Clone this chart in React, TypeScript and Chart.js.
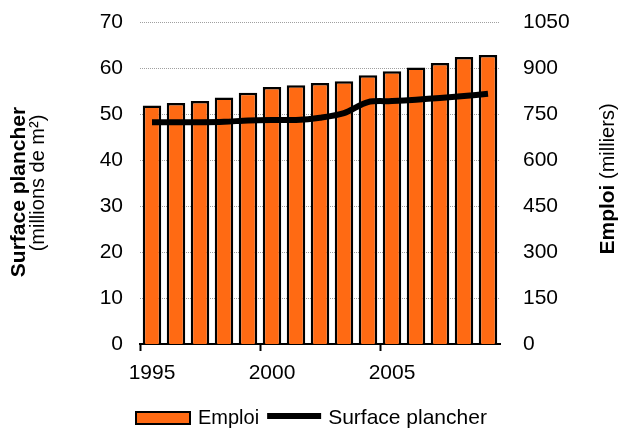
import React, { useEffect, useRef } from "react";
import { Chart, registerables } from "chart.js";

Chart.register(...registerables);

const years = ["1995","1996","1997","1998","1999","2000","2001","2002","2003","2004","2005","2006","2007","2008","2009"];
// Emploi (milliers) - right axis
const emploi = [778, 786, 792, 804, 819, 838, 844, 851, 857, 876, 889, 902, 916, 936, 942];
// Surface plancher (millions de m²) - left axis
const surface = [48.2, 48.2, 48.2, 48.3, 48.6, 48.7, 48.7, 49.2, 50.2, 52.6, 52.8, 53.1, 53.5, 53.9, 54.4];

const leftMax = 70;
const leftStep = 10;
const rightMax = 1050;
const rightStep = 150;

const FONT = "'Liberation Sans', Arial, sans-serif";
const ORANGE = "#FF6A13";

const titlesPlugin = {
  id: "customTitles",
  afterDraw(chart: any) {
    const ctx = chart.ctx;
    const area = chart.chartArea;
    const cy = (area.top + area.bottom) / 2;
    ctx.save();
    ctx.fillStyle = "#000";
    ctx.textBaseline = "middle";
    ctx.textAlign = "center";
    // left title
    ctx.save();
    ctx.translate(19, cy + 9);
    ctx.rotate(-Math.PI / 2);
    ctx.font = `bold 21px ${FONT}`;
    ctx.fillText("Surface plancher", 0, 0);
    ctx.restore();
    ctx.save();
    ctx.translate(38, cy);
    ctx.rotate(-Math.PI / 2);
    ctx.font = `20px ${FONT}`;
    ctx.fillText("(millions de m²)", 0, 0);
    ctx.restore();
    // right title
    ctx.save();
    ctx.translate(608, cy - 4);
    ctx.rotate(-Math.PI / 2);
    ctx.font = `bold 21px ${FONT}`;
    const a = "Emploi";
    const wa = ctx.measureText(a).width;
    ctx.font = `20px ${FONT}`;
    const b = " (milliers)";
    const wb = ctx.measureText(b).width;
    const start = -(wa + wb) / 2;
    ctx.textAlign = "left";
    ctx.font = `bold 21px ${FONT}`;
    ctx.fillText(a, start, 0);
    ctx.font = `20px ${FONT}`;
    ctx.fillText(b, start + wa, 0);
    ctx.restore();

    // legend
    const ds = chart.data.datasets;
    const barDs = ds.find((d: any) => d.type === "bar");
    const lineDs = ds.find((d: any) => d.type === "line");
    ctx.font = `20px ${FONT}`;
    const w1 = ctx.measureText(barDs.label).width;
    const boxW = 54, lineW = 54, g1 = 8, g2 = 8, g3 = 7;
    let x = area.left - 4;
    const ly = 418;
    ctx.fillStyle = barDs.backgroundColor;
    ctx.fillRect(x, ly - 6, boxW, 12);
    ctx.strokeStyle = "#000";
    ctx.lineWidth = 2;
    ctx.strokeRect(x, ly - 6, boxW, 12);
    x += boxW + g1;
    ctx.fillStyle = "#000";
    ctx.textAlign = "left";
    ctx.fillText(barDs.label, x, ly);
    x += w1 + g2;
    ctx.beginPath();
    ctx.lineWidth = 6;
    ctx.strokeStyle = "#000";
    ctx.moveTo(x, ly - 2);
    ctx.lineTo(x + lineW, ly - 2);
    ctx.stroke();
    x += lineW + g3;
    ctx.font = `21px ${FONT}`;
    ctx.fillText(lineDs.label, x, ly);
    ctx.restore();
  },
};

export default function App() {
  const ref = useRef<HTMLCanvasElement>(null);
  useEffect(() => {
    if (!ref.current) return;
    const chart = new Chart(ref.current, {
      type: "bar",
      data: {
        labels: years,
        datasets: [
          {
            type: "line",
            label: "Surface plancher",
            data: surface,
            yAxisID: "y",
            borderColor: "#000",
            backgroundColor: "#000",
            borderWidth: 6,
            pointRadius: 0,
            tension: 0.3,
            order: 0,
          } as any,
          {
            type: "bar",
            label: "Emploi",
            data: emploi,
            yAxisID: "y1",
            backgroundColor: ORANGE,
            borderColor: "#000",
            borderWidth: 2.5,
            categoryPercentage: 1,
            barPercentage: 0.77,
            order: 1,
          } as any,
        ],
      },
      plugins: [titlesPlugin],
      options: {
        responsive: false,
        animation: false,
        devicePixelRatio: 1,
        layout: { padding: { top: 22, left: 0, right: 0, bottom: 0 } },
        plugins: {
          legend: { display: false },
          tooltip: { enabled: false },
          title: { display: false },
        },
        scales: {
          x: {
            offset: true,
            grid: {
              offset: true,
              drawOnChartArea: false,
              drawTicks: true,
              tickLength: 7,
              tickWidth: 2,
              tickColor: (c: any) => (c.index % 5 === 0 ? "#000" : "rgba(0,0,0,0)"),
            },
            border: { display: true, color: "#000", width: 2 },
            ticks: {
              autoSkip: false,
              maxRotation: 0,
              color: "#000",
              font: { family: FONT, size: 21 },
              padding: 10,
              callback: (_v: any, i: number) => (i % 5 === 0 ? years[i] : ""),
            },
            afterFit: (s: any) => {
              s.height = 86;
              s.paddingLeft = 0;
              s.paddingRight = 0;
            },
          },
          y: {
            position: "left",
            min: 0,
            max: leftMax,
            grid: {
              color: (c: any) => (c.tick && c.tick.value === 0 ? "rgba(0,0,0,0)" : "#a0a0a0"),
              lineWidth: 1,
              drawTicks: false,
            },
            border: { display: false, dash: [1, 1] },
            ticks: {
              stepSize: leftStep,
              color: "#000",
              font: { family: FONT, size: 21 },
              padding: 17,
              callback: (v: any) => String(v),
            },
            afterFit: (s: any) => {
              s.width = 140;
              s.paddingTop = 0;
              s.paddingBottom = 0;
            },
          },
          y1: {
            position: "right",
            min: 0,
            max: rightMax,
            grid: { display: false, drawOnChartArea: false },
            border: { display: false },
            ticks: {
              stepSize: rightStep,
              color: "#000",
              font: { family: FONT, size: 21 },
              padding: 15,
              callback: (v: any) => String(v),
            },
            afterFit: (s: any) => {
              s.width = 121;
              s.paddingTop = 0;
              s.paddingBottom = 0;
            },
          },
        },
      } as any,
    });
    return () => chart.destroy();
  }, []);
  return (
    <div style={{ position: "absolute", left: 0, top: 0, width: 621, height: 430, background: "#fff" }}>
      <canvas ref={ref} width={621} height={430} />
    </div>
  );
}
